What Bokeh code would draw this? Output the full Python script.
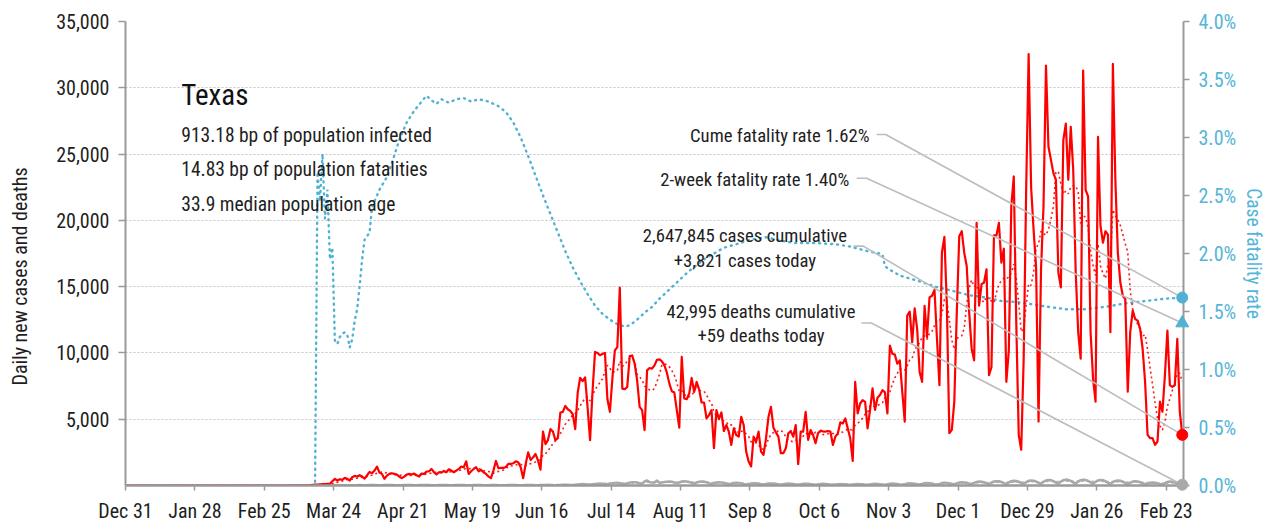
import numpy as np
import pandas as pd
from bokeh.plotting import figure
from bokeh.models import (Range1d, LinearAxis, FixedTicker, NumeralTickFormatter,
                          PrintfTickFormatter, Label)
from bokeh.embed import file_html
from bokeh.resources import INLINE

FONT = "'Roboto Condensed', Roboto, sans-serif"

# ---------------- data ----------------
# day index 0 = Dec 31, 2019 ; last day 426 = Mar 1, 2021
x_tick_days = [0, 28, 56, 84, 112, 140, 168, 196, 224, 252, 280, 308, 336, 364, 392, 420]
x_tick_labels = ["Dec 31", "Jan 28", "Feb 25", "Mar 24", "Apr 21", "May 19", "Jun 16",
                 "Jul 14", "Aug 11", "Sep 8", "Oct 6", "Nov 3", "Dec 1", "Dec 29",
                 "Jan 26", "Feb 23"]

daily_cases = [0] * 64 + [
    1, 0, 2, 3, 5, 6, 8, 12, 16, 24,                              # 64
    30, 45, 60, 75, 90, 100, 110, 120, 125,                       # 74
    325, 500, 375, 475, 425, 575, 500, 375, 625, 725,             # 83
    675, 775, 675, 525, 775, 1025, 925, 1125, 1425, 975,          # 93
    875, 500, 750, 875, 925, 875, 825, 675, 550, 675,             # 103
    825, 875, 825, 900, 775, 675, 900, 875, 1050, 1075,           # 113
    1250, 1000, 825, 1000, 975, 1100, 1000, 1225, 1125, 1000,     # 123
    1125, 1250, 1425, 1375, 1825, 875, 1075, 1250, 1375, 1075,    # 133
    1175, 1000, 875, 675, 550, 1125, 1850, 1300, 1325, 1325,      # 143
    1400, 1625, 1625, 1675, 1825, 1750, 1375, 550, 1625, 2500,    # 153
    1925, 2125, 2375, 1875, 1200, 4075, 3125, 3425, 4250, 4075,   # 163
    3425, 3575, 5500, 5550, 6000, 5750, 5625, 5375, 4250, 7000,   # 173
    8125, 7875, 8150, 5875, 3425, 7125, 10075, 10000, 9825, 9925, # 183
    10000, 6500, 5560, 8060, 10190, 10440, 14935, 7310, 7260, 7435,  # 193
    9760, 9810, 9185, 7935, 5935, 5685, 4185, 8685, 8860, 8810,   # 203
    9060, 9485, 9510, 9360, 9060, 8510, 7685, 7110, 7010, 5685,   # 213
    4360, 9700, 6560, 6510, 6935, 8110, 7060, 7810, 7260, 6260,   # 223
    6260, 5060, 5310, 5685, 2810, 5685, 5010, 5510, 4110, 4560,   # 233
    4060, 3060, 4310, 3810, 3685, 5185, 4560, 2560, 1810, 1435,   # 243
    3685, 3310, 4060, 2560, 2310, 3560, 5185, 5935, 4360, 4010,   # 253
    3685, 2435, 2435, 2810, 3935, 4110, 3685, 4560, 1610, 4060,   # 263
    4060, 5560, 3435, 4185, 3810, 3185, 3935, 4135, 4085, 4060,   # 273
    4110, 4060, 3060, 3685, 3935, 4760, 4685, 5060, 4310, 3560,   # 283
    1860, 7810, 5435, 6185, 6435, 6310, 4310, 5700, 7320, 5700,   # 293
    6620, 6820, 7190, 7020, 5440, 10560, 9940, 9870, 9190, 9440,  # 303
    7070, 4820, 12810, 13110, 10820, 13360, 11810, 8570, 7820, 13560,   # 313
    11190, 14190, 14310, 14760, 11070, 7570, 17560, 18760, 13560, 3950,  # 323
    4200, 6320, 13060, 18810, 19180, 17560, 16560, 13060, 10320, 9440,   # 333
    19810, 13560, 15190, 15310, 16310, 8320, 8940, 18860, 18860, 19810,  # 343
    16810, 17860, 7820, 10190, 21060, 23310, 12310, 3820, 2700, 9570,    # 353
    22300, 32550, 22500, 19300, 16500, 4820, 16310, 21060, 31670, 25550, # 363
    24560, 23560, 23060, 16060, 14940, 26050, 27300, 23060, 27050, 23800,  # 373
    16060, 11560, 9570, 31300, 22300, 21800, 11560, 8070, 6320, 26300,   # 383
    19560, 18310, 19180, 18930, 11560, 31800, 23060, 17560, 15310, 14310,  # 393
    14060, 7070, 11560, 13190, 12560, 12440, 11810, 10320, 7820, 3820,   # 403
    3570, 3570, 3070, 3320, 6320, 5570, 8320, 11690, 7570, 7440,         # 413
    7570, 11070, 5600, 3821,                                             # 423
]

daily_deaths = [0] * 75 + [
    0, 1, 1, 2, 2, 3, 2,  3, 5, 4, 7, 8, 10, 12,  9, 14, 18, 20, 22, 25, 18,
    15, 24, 30, 28, 25, 22, 18,  14, 25, 30, 28, 26, 24, 20,  15, 22, 30, 32, 28, 26, 20,
    14, 25, 30, 35, 30, 28, 22,  15, 24, 32, 30, 28, 30, 20,  14, 22, 30, 35, 30, 25, 20,
    12, 20, 28, 30, 32, 26, 18,  10, 18, 25, 30, 28, 24, 16,  10, 20, 28, 30, 32, 26, 18,
    12, 22, 30, 35, 38, 30, 20,  15, 25, 32, 40, 45, 35, 25,  20, 30, 40, 55, 60, 50, 35,
    30, 55, 80, 100, 110, 95, 80,  70, 90, 110, 130, 140, 130, 120,
    100, 150, 170, 190, 200, 170, 140,  120, 160, 200, 240, 250, 220, 160,
    150, 300, 380, 250, 230, 220, 380,  200, 230, 260, 280, 300, 280, 230,
    180, 230, 300, 320, 300, 260, 200,  150, 220, 280, 300, 290, 250, 180,
    120, 180, 220, 240, 230, 200, 140,  90, 140, 180, 200, 190, 170, 120,
    80, 90, 150, 170, 160, 140, 100,  70, 110, 140, 150, 140, 120, 90,
    60, 100, 130, 140, 130, 110, 80,  55, 90, 120, 130, 120, 100, 75,
    50, 80, 110, 120, 110, 95, 70,  50, 80, 100, 110, 100, 90, 65,
    45, 75, 100, 110, 100, 90, 65,  50, 80, 110, 120, 110, 95, 70,
    55, 90, 130, 140, 130, 110, 80,  60, 100, 150, 160, 150, 130, 90,
    70, 120, 170, 180, 170, 150, 100,  80, 120, 180, 200, 190, 160, 110,
    90, 160, 220, 240, 230, 200, 140,  100, 200, 270, 290, 280, 240, 160,
    110, 220, 300, 320, 310, 270, 180,  120, 230, 320, 350, 330, 280, 190,
    130, 250, 350, 380, 360, 300, 200,  140, 280, 380, 420, 400, 330, 220,
    150, 300, 400, 440, 420, 350, 230,  150, 300, 400, 430, 410, 340, 230,
    140, 280, 380, 410, 390, 320, 210,  130, 250, 340, 370, 350, 290, 190,
    110, 210, 290, 320, 300, 250, 170,  90, 150, 200, 220, 200, 170, 110,
    80, 180, 260, 300, 280, 230, 150,  100, 59,
]

# cumulative case fatality rate (%) read at selected days
cfr_days = [0, 76, 77, 78, 79, 80, 81, 82, 83, 84, 85, 86, 87, 88, 89, 90, 91, 92, 93, 94,
            95, 96, 98, 99, 102, 105, 107, 110, 113, 116, 119, 121, 123, 125, 127, 130,
            133, 136, 139, 142, 146, 150, 153, 156, 159, 162, 165, 168, 171, 174, 177,
            180, 183, 186, 189, 192, 195, 198, 201, 203, 206, 209, 212, 215, 218, 221,
            224, 227, 230, 233, 237, 241, 246, 252, 258, 264, 270, 278, 286, 292, 299,
            304, 305, 306, 308, 312, 320, 327, 333, 340, 347, 353, 360, 366, 372, 379,
            387, 395, 403, 411, 419, 426]
cfr_pct = [0, 0, 2.70, 2.45, 2.86, 2.30, 2.55, 1.95, 2.05, 1.25, 1.22, 1.28, 1.31, 1.32,
           1.30, 1.19, 1.26, 1.42, 1.52, 1.72, 1.95, 2.12, 2.18, 2.40, 2.55, 2.66, 2.78,
           2.98, 3.13, 3.23, 3.31, 3.36, 3.32, 3.29, 3.33, 3.30, 3.33, 3.34, 3.31, 3.33,
           3.31, 3.27, 3.22, 3.13, 3.00, 2.84, 2.67, 2.50, 2.34, 2.18, 2.02, 1.88, 1.76,
           1.65, 1.55, 1.48, 1.43, 1.39, 1.37, 1.38, 1.43, 1.49, 1.54, 1.61, 1.67, 1.73,
           1.79, 1.85, 1.90, 1.95, 2.00, 2.05, 2.08, 2.12, 2.14, 2.11, 2.09, 2.09, 2.08,
           2.06, 2.02, 2.00, 1.99, 1.89, 1.86, 1.81, 1.76, 1.71, 1.68, 1.64, 1.62, 1.59,
           1.58, 1.56, 1.54, 1.52, 1.52, 1.54, 1.57, 1.59, 1.61, 1.62]

cume_cfr = 1.62
two_week_cfr = 1.40
cases_today = 3821
deaths_today = 59
cases_cum = "2,647,845"
deaths_cum = "42,995"

state = "Texas"
stats_lines = ["913.18 bp of population infected",
               "14.83 bp of population fatalities",
               "33.9 median population age"]

assert len(daily_cases) == 427 and len(daily_deaths) == 427
assert len(cfr_days) == len(cfr_pct)

# ---------------- derived ----------------
days = np.arange(len(daily_cases))
xs = days + 0.5                      # each day drawn at its midpoint
cases_avg = pd.Series(daily_cases, dtype=float).rolling(7, min_periods=1).mean()
deaths_avg = pd.Series(daily_deaths, dtype=float).rolling(7, min_periods=1).mean()
cfr_x = np.array(cfr_days) + 0.5
last_x = xs[-1]

Y_MAX = 35000
CFR_MAX = 4.0
to_left = Y_MAX / CFR_MAX

RED = "#ff0000"
BLUE = "#4fb2d3"
BLUE_TXT = "#55b5d8"
GREY = "#a9a9a9"
AXIS = "#9a9a9a"
TXT = "#1e1e1e"
LEAD = "#bdbdbd"
NBSP = "\u00a0"

p = figure(width=1268, height=525, x_range=Range1d(0, 427), y_range=Range1d(0, Y_MAX),
           output_backend="svg", toolbar_location=None,
           min_border_left=125, min_border_right=82, min_border_top=21, min_border_bottom=37,
           outline_line_color=None, background_fill_color="white")
p.extra_y_ranges = {"cfr": Range1d(0, CFR_MAX)}

# axes
xa = p.xaxis[0]
xa.ticker = FixedTicker(ticks=x_tick_days)
xa.major_label_overrides = {d: l for d, l in zip(x_tick_days, x_tick_labels)}
xa.minor_tick_line_color = None
xa.major_tick_out = 5
xa.major_tick_in = 0
xa.major_label_standoff = 8
xa.axis_line_color = AXIS
xa.axis_line_width = 2.5
xa.major_tick_line_color = AXIS
xa.major_tick_line_width = 1.5
xa.major_label_text_font = FONT
xa.major_label_text_font_size = "20px"
xa.major_label_text_color = TXT

ya = p.yaxis[0]
ya.ticker = FixedTicker(ticks=[5000, 10000, 15000, 20000, 25000, 30000, 35000])
ya.formatter = NumeralTickFormatter(format="0,0")
ya.minor_tick_line_color = None
ya.major_tick_out = 7
ya.major_tick_in = 0
ya.major_label_standoff = 9
ya.axis_line_color = AXIS
ya.axis_line_width = 2
ya.major_tick_line_color = AXIS
ya.major_tick_line_width = 1.5
ya.major_label_text_font = FONT
ya.major_label_text_font_size = "20px"
ya.major_label_text_color = TXT
ya.axis_label = "Daily new cases and deaths" + NBSP * 10
ya.axis_label_text_font = FONT
ya.axis_label_text_font_size = "20px"
ya.axis_label_text_font_style = "normal"
ya.axis_label_text_color = TXT
ya.axis_label_standoff = 21

ra = LinearAxis(y_range_name="cfr",
                ticker=FixedTicker(ticks=[0, 0.5, 1, 1.5, 2, 2.5, 3, 3.5, 4]),
                formatter=PrintfTickFormatter(format="%.1f%%"))
ra.minor_tick_line_color = None
ra.major_tick_out = 6
ra.major_tick_in = 0
ra.major_label_standoff = 9
ra.axis_line_color = AXIS
ra.axis_line_width = 2
ra.major_tick_line_color = AXIS
ra.major_tick_line_width = 1.5
ra.major_label_text_font = FONT
ra.major_label_text_font_size = "20px"
ra.major_label_text_color = BLUE_TXT
ra.axis_label = "Case fatality rate"
ra.axis_label_text_font = FONT
ra.axis_label_text_font_size = "19.5px"
ra.axis_label_text_font_style = "normal"
ra.axis_label_text_color = BLUE_TXT
ra.axis_label_standoff = 3
p.add_layout(ra, "right")

p.xgrid.visible = False
p.ygrid.ticker = FixedTicker(ticks=[5000, 10000, 15000, 20000, 25000, 30000, 35000])
p.ygrid.grid_line_color = "#c4c4c4"
p.ygrid.grid_line_dash = "2 2"
p.ygrid.grid_line_width = 1.2

# series
p.line(cfr_x, cfr_pct, y_range_name="cfr", line_color=BLUE, line_width=2.4,
       line_dash="1 5", line_cap="round")
p.line(xs, deaths_avg, line_color=GREY, line_width=1.5, line_dash="2 3")
p.line(xs, daily_deaths, line_color=GREY, line_width=2.6)
p.line(xs, cases_avg, line_color=RED, line_width=1.6, line_dash="2 3", line_alpha=0.9)
p.line(xs, daily_cases, line_color=RED, line_width=2.2, line_join="round")

# annotation block (left)
STAT_X = 22.5
p.add_layout(Label(x=STAT_X, y=29480, text=state, text_font=FONT, text_font_size="29px",
                   text_baseline="middle", text_color="#111111"))
for txt, yv in zip(stats_lines, [26390, 23800, 21180]):
    p.add_layout(Label(x=STAT_X, y=yv, text=txt, text_font=FONT, text_font_size="19.5px",
                       text_baseline="middle", text_color=TXT))

# right annotations with leader lines
def note(x, y, text, align):
    p.add_layout(Label(x=x, y=y, text=text, text_font=FONT, text_font_size="18.7px",
                       text_align=align, text_baseline="middle", text_color=TXT))

note(300.3, 26350, f"Cume fatality rate {cume_cfr:.2f}%", "right")
note(292.1, 23080, f"2-week fatality rate {two_week_cfr:.2f}%", "right")
note(250.0, 18800, f"{cases_cum} cases cumulative", "center")
note(250.0, 16930, f"+{cases_today:,} cases today", "center")
note(256.5, 13060, f"{deaths_cum} deaths cumulative", "center")
note(256.5, 11290, f"+{deaths_today} deaths today", "center")

leaders = [
    (303.1, 306.8, 26480, cume_cfr * to_left),
    (295.1, 299.1, 23180, two_week_cfr * to_left),
    (293.8, 297.8, 18055, cases_today),
    (297.0, 301.0, 12260, deaths_today),
]
for xa0, xa1, ya0, yend in leaders:
    p.line([xa0, xa1, last_x], [ya0, ya0, yend], line_color=LEAD, line_width=1.6)

# end markers (overlay level so they are drawn over the axis)
p.scatter([last_x], [cume_cfr], y_range_name="cfr", marker="circle", size=11,
          fill_color=BLUE, line_color=BLUE, level="overlay")
p.scatter([last_x], [two_week_cfr], y_range_name="cfr", marker="triangle", size=13,
          fill_color=BLUE, line_color=BLUE, level="overlay")
p.scatter([last_x], [cases_today], marker="circle", size=11, fill_color=RED, line_color=RED,
          level="overlay")
p.scatter([last_x], [deaths_today], marker="circle", size=11, fill_color=GREY,
          line_color=GREY, level="overlay")

open("out.html", "w").write(file_html(p, INLINE))
